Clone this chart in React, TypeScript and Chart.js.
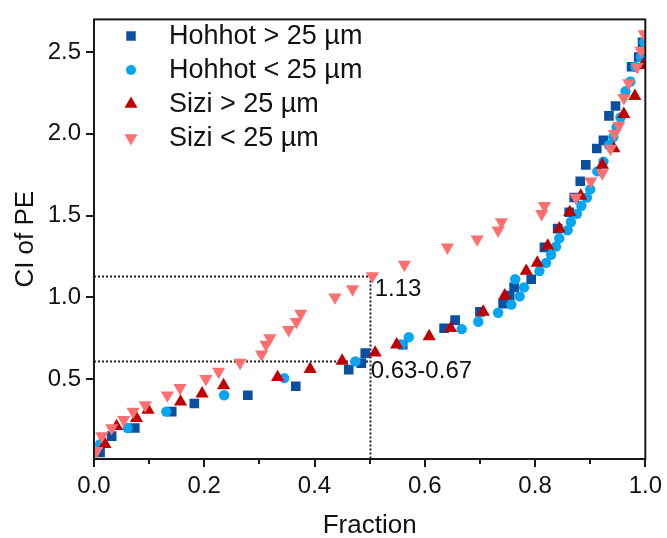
import React, { useEffect, useRef } from "react";
import { Chart, registerables } from "chart.js";

Chart.register(...registerables);

// ---- axis ticks ----
const xTicks = [0, 0.2, 0.4, 0.6, 0.8, 1.0];
const xMinorTicks = [0.1, 0.3, 0.5, 0.7, 0.9];
const yTicks = [0.5, 1.0, 1.5, 2.0, 2.5];
const xTitle = "Fraction";
const yTitle = "CI of PE";

// ---- series ----
const seriesLabels = ["Hohhot > 25 µm", "Hohhot < 25 µm", "Sizi > 25 µm", "Sizi < 25 µm"];
const seriesColors = ["#0A4FA0", "#04A6F2", "#C00000", "#FF6F6F"];

const hohhotCoarseX = [0.011, 0.032, 0.074, 0.141, 0.182, 0.279, 0.366, 0.462, 0.485, 0.492, 0.56, 0.635, 0.655, 0.70, 0.742, 0.754, 0.762, 0.793, 0.817, 0.841, 0.862, 0.871, 0.882, 0.892, 0.912, 0.924, 0.934, 0.946, 0.975, 0.988, 0.995];
const hohhotCoarseY = [0.05, 0.15, 0.20, 0.30, 0.35, 0.40, 0.455, 0.557, 0.597, 0.658, 0.71, 0.81, 0.86, 0.91, 0.96, 1.01, 1.06, 1.11, 1.305, 1.42, 1.52, 1.61, 1.71, 1.81, 1.91, 1.96, 2.11, 2.17, 2.41, 2.47, 2.56];

const hohhotFineX = [0.011, 0.061, 0.131, 0.236, 0.345, 0.474, 0.558, 0.571, 0.667, 0.697, 0.733, 0.757, 0.772, 0.78, 0.764, 0.808, 0.82, 0.829, 0.838, 0.844, 0.859, 0.865, 0.876, 0.884, 0.894, 0.90, 0.913, 0.924, 0.934, 0.942, 0.948, 0.955, 0.964, 0.973, 0.982, 0.992, 0.998];
const hohhotFineY = [0.10, 0.20, 0.30, 0.40, 0.505, 0.607, 0.71, 0.755, 0.805, 0.85, 0.905, 0.955, 1.005, 1.06, 1.11, 1.16, 1.21, 1.26, 1.31, 1.36, 1.41, 1.46, 1.51, 1.56, 1.61, 1.66, 1.77, 1.83, 1.93, 1.98, 2.04, 2.10, 2.26, 2.32, 2.41, 2.47, 2.56];

const siziCoarseX = [0.02, 0.041, 0.077, 0.098, 0.157, 0.196, 0.235, 0.333, 0.392, 0.45, 0.51, 0.549, 0.608, 0.647, 0.706, 0.745, 0.784, 0.804, 0.823, 0.844, 0.863, 0.883, 0.922, 0.943, 0.961, 0.981, 0.996];
const siziCoarseY = [0.10, 0.21, 0.26, 0.31, 0.36, 0.41, 0.46, 0.51, 0.56, 0.61, 0.66, 0.71, 0.76, 0.81, 0.91, 1.01, 1.16, 1.21, 1.315, 1.42, 1.52, 1.62, 1.81, 1.91, 2.12, 2.23, 2.42];

const siziFineX = [0.005, 0.014, 0.032, 0.054, 0.071, 0.093, 0.133, 0.156, 0.203, 0.226, 0.265, 0.304, 0.312, 0.319, 0.353, 0.367, 0.375, 0.437, 0.469, 0.505, 0.563, 0.641, 0.695, 0.733, 0.739, 0.812, 0.817, 0.874, 0.901, 0.922, 0.937, 0.944, 0.952, 0.961, 0.970, 0.985, 0.992, 0.998];
const siziFineY = [0.06, 0.15, 0.20, 0.25, 0.30, 0.34, 0.40, 0.445, 0.50, 0.545, 0.60, 0.65, 0.71, 0.75, 0.80, 0.85, 0.90, 1.00, 1.05, 1.13, 1.20, 1.305, 1.355, 1.41, 1.46, 1.51, 1.56, 1.61, 1.71, 1.76, 1.91, 2.00, 2.05, 2.22, 2.31, 2.41, 2.51, 2.61];

// ---- reference lines & notes ----
const refX = 0.5;
const refYHigh = 1.13;
const refYLow = 0.61;
const noteHigh = "1.13";
const noteLow = "0.63-0.67";

const FONT = '"Liberation Sans", Arial, Helvetica, sans-serif';
const INK = "#111111";
const FRAME = "#1a1a1a";

const toPoints = (xs: number[], ys: number[]) => xs.map((x, i) => ({ x, y: ys[i] }));

function drawMarker(ctx: CanvasRenderingContext2D, kind: number, x: number, y: number) {
  ctx.beginPath();
  if (kind === 0) {
    const s = 6.7 * Math.SQRT1_2;
    ctx.rect(x - s, y - s, 2 * s, 2 * s);
  } else if (kind === 1) {
    ctx.arc(x, y, 5, 0, Math.PI * 2);
  } else {
    const r = 7.5;
    const dir = kind === 2 ? -1 : 1;
    ctx.moveTo(x, y + dir * r);
    ctx.lineTo(x + r * Math.sin((2 * Math.PI) / 3), y - dir * r * 0.5);
    ctx.lineTo(x - r * Math.sin((2 * Math.PI) / 3), y - dir * r * 0.5);
    ctx.closePath();
  }
  ctx.fillStyle = seriesColors[kind];
  ctx.fill();
}

const decorPlugin = {
  id: "decor",
  beforeDatasetsDraw(chart: any) {
    const { ctx, chartArea: ca, scales } = chart;
    const x = scales.x;
    const y = scales.y;
    const px = Math.round(x.getPixelForValue(refX)) + 0.5;
    const pyH = Math.round(y.getPixelForValue(refYHigh)) + 0.5;
    const pyL = Math.round(y.getPixelForValue(refYLow)) + 0.5;
    ctx.save();
    ctx.strokeStyle = "#222222";
    ctx.lineWidth = 2;
    ctx.setLineDash([2, 2]);
    ctx.beginPath();
    ctx.moveTo(ca.left, pyH);
    ctx.lineTo(px, pyH);
    ctx.moveTo(ca.left, pyL);
    ctx.lineTo(px, pyL);
    ctx.moveTo(px, pyH);
    ctx.lineTo(px, ca.bottom);
    ctx.stroke();
    ctx.restore();
  },
  afterDraw(chart: any) {
    const { ctx, chartArea: ca, scales } = chart;
    const x = scales.x;
    const y = scales.y;
    ctx.save();
    // frame
    ctx.strokeStyle = FRAME;
    ctx.lineWidth = 2;
    ctx.setLineDash([]);
    ctx.strokeRect(ca.left, ca.top, ca.right - ca.left, ca.bottom - ca.top);
    // minor x ticks
    ctx.beginPath();
    xMinorTicks.forEach((v) => {
      const p = Math.round(x.getPixelForValue(v));
      ctx.moveTo(p, ca.bottom);
      ctx.lineTo(p, ca.bottom + 5);
    });
    ctx.stroke();
    // notes
    const px = x.getPixelForValue(refX);
    ctx.fillStyle = INK;
    ctx.font = `24px ${FONT}`;
    ctx.textAlign = "left";
    ctx.textBaseline = "alphabetic";
    ctx.fillText(noteHigh, px + 5, y.getPixelForValue(refYHigh) + 20);
    ctx.fillText(noteLow, px + 1, y.getPixelForValue(refYLow) + 17);
    // legend
    ctx.font = `27px ${FONT}`;
    ctx.textBaseline = "middle";
    const rows = [36, 70, 104, 138];
    seriesLabels.forEach((label, i) => {
      drawMarker(ctx, i, 131, rows[i]);
      ctx.fillStyle = INK;
      ctx.fillText(label, 169, rows[i] + 1);
    });
    ctx.restore();
  },
};

export default function App() {
  const canvasRef = useRef<HTMLCanvasElement | null>(null);

  useEffect(() => {
    document.body.style.margin = "0";
    const canvas = canvasRef.current;
    if (!canvas) return;

    const pointStyles: any[] = ["rect", "circle", "triangle", "triangle"];
    const radii = [6.8, 5.2, 7.6, 7.6];
    const rotations = [0, 0, 0, 180];
    const orders = [4, 3, 2, 1];
    const dataSets = [
      toPoints(hohhotCoarseX, hohhotCoarseY),
      toPoints(hohhotFineX, hohhotFineY),
      toPoints(siziCoarseX, siziCoarseY),
      toPoints(siziFineX, siziFineY),
    ];

    const chart = new Chart(canvas, {
      type: "scatter",
      data: {
        datasets: dataSets.map((d, i) => ({
          label: seriesLabels[i],
          data: d,
          pointStyle: pointStyles[i],
          pointRadius: radii[i],
          pointHoverRadius: radii[i],
          pointRotation: rotations[i],
          pointBackgroundColor: seriesColors[i],
          backgroundColor: seriesColors[i],
          pointBorderWidth: 0,
          borderWidth: 0,
          showLine: false,
          order: orders[i],
          clip: 0,
        })),
      },
      plugins: [decorPlugin],
      options: {
        animation: false,
        responsive: false,
        devicePixelRatio: 1,
        events: [],
        layout: { padding: { top: 15, right: 19, left: 0, bottom: 0 } },
        plugins: {
          legend: { display: false },
          tooltip: { enabled: false },
          title: { display: false },
        },
        scales: {
          x: {
            type: "linear",
            min: 0,
            max: 1,
            afterBuildTicks: (s: any) => {
              s.ticks = xTicks.map((v) => ({ value: v }));
            },
            afterFit: (s: any) => {
              s.height = 79;
            },
            ticks: {
              autoSkip: false,
              maxRotation: 0,
              padding: 5,
              color: INK,
              font: { family: FONT, size: 24 },
              callback: (v: any) => Number(v).toFixed(1),
            },
            grid: {
              display: true,
              drawOnChartArea: false,
              drawTicks: true,
              tickLength: 8,
              color: FRAME,
              lineWidth: 2,
            },
            border: { display: false },
            title: {
              display: true,
              text: xTitle,
              color: INK,
              font: { family: FONT, size: 26 },
              padding: { top: 0, bottom: -3.6 },
            },
          },
          y: {
            type: "linear",
            min: 0.01,
            max: 2.7,
            afterBuildTicks: (s: any) => {
              s.ticks = yTicks.map((v) => ({ value: v }));
            },
            afterFit: (s: any) => {
              s.width = 94;
            },
            ticks: {
              autoSkip: false,
              padding: 5,
              color: INK,
              font: { family: FONT, size: 24 },
              callback: (v: any) => Number(v).toFixed(1),
            },
            grid: {
              display: true,
              drawOnChartArea: false,
              drawTicks: true,
              tickLength: 8,
              color: FRAME,
              lineWidth: 2,
            },
            border: { display: false },
            title: {
              display: true,
              text: yTitle,
              color: INK,
              font: { family: FONT, size: 26 },
              padding: { top: 10, bottom: 0 },
            },
          },
        },
      },
    });

    return () => chart.destroy();
  }, []);

  return (
    <div style={{ width: 667, height: 538, background: "#ffffff" }}>
      <canvas ref={canvasRef} width={667} height={538} style={{ display: "block" }} />
    </div>
  );
}
